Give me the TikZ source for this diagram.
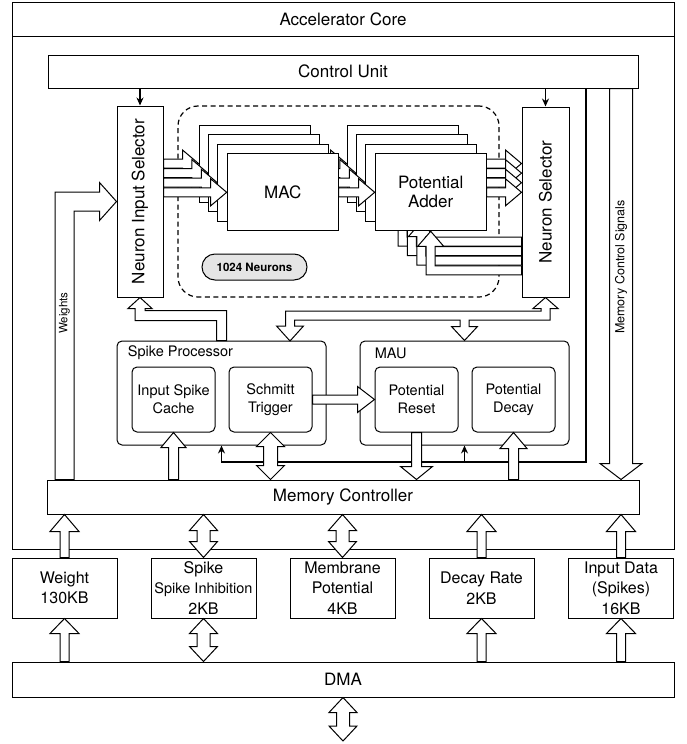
\documentclass[tikz,border=0pt]{standalone}
\usepackage{fontspec}
\setmainfont{TeX Gyre Heros}
\usepackage{tikz}
\usetikzlibrary{calc, arrows.meta}

\newcommand{\fsmain}{\fontsize{17}{19}\selectfont}
\newcommand{\fssub}{\fontsize{14.5}{18}\selectfont}
\newcommand{\fstiny}{\fontsize{11.5}{13}\selectfont}
% fat arrow: from, to, shaft half width, head half width, head length
\newcommand{\fatarrow}[5]{%
  \coordinate (fa) at #1; \coordinate (fb) at #2;
  \coordinate (fc) at ($(fb)!#5pt!(fa)$);
  \filldraw[fill=white] ($(fa)!#3pt!90:(fb)$) -- ($(fc)!#3pt!-90:(fa)$) -- ($(fc)!#4pt!-90:(fa)$)
    -- (fb) -- ($(fc)!#4pt!90:(fa)$) -- ($(fc)!#3pt!90:(fa)$) -- ($(fa)!#3pt!-90:(fb)$) -- cycle;}
% fat arrow with two heads
\newcommand{\fatdarrow}[5]{%
  \coordinate (fa) at #1; \coordinate (fb) at #2;
  \coordinate (fc) at ($(fb)!#5pt!(fa)$); \coordinate (fd) at ($(fa)!#5pt!(fb)$);
  \filldraw[fill=white] (fa) -- ($(fd)!#4pt!90:(fb)$) -- ($(fd)!#3pt!90:(fb)$)
    -- ($(fc)!#3pt!-90:(fa)$) -- ($(fc)!#4pt!-90:(fa)$) -- (fb)
    -- ($(fc)!#4pt!90:(fa)$) -- ($(fc)!#3pt!90:(fa)$)
    -- ($(fd)!#3pt!-90:(fb)$) -- ($(fd)!#4pt!-90:(fb)$) -- cycle;}

\begin{document}
\begin{tikzpicture}[x=1pt, y=-1pt, line width=1pt, >={Stealth[length=8pt,width=7pt]}]
        % Setup the styles
        \tikzset{box/.style={draw, fill=white, inner sep=0pt, align=center, font=\fsmain},
                 rbox/.style={box, rounded corners=5pt, font=\fssub,
                              minimum width=83, minimum height=65},
                 group/.style={box, rounded corners=5pt, minimum width=209, minimum height=104},
                 membox/.style={box, minimum width=105, minimum height=60,
                                font=\fontsize{16}{20.5}\selectfont},
                 copy/.style={box, minimum width=111, minimum height=77},
                 ctl/.style={draw, line width=1.2pt, ->}}
        \useasboundingbox (0,0) rectangle (686,744);

        % Accelerator core frame
        \node[box, minimum width=662, minimum height=513] (core) at (343,292.5) {};
        \node[box, minimum width=662, minimum height=34] (coretitle) at (343,19) {Accelerator Core};

        % Draw the main blocks
        \node[box, minimum width=590, minimum height=33] (ctrl) at (343,71.5) {Control Unit};
        \node[box, minimum width=592, minimum height=34] (mc) at (343,497) {Memory Controller};
        \node[box, minimum width=662, minimum height=35] (dma) at (343,679.5) {DMA};

        % Memories
        \node[membox] (wmem) at (64.5,588) {Weight\\130KB};
        \node[membox] (smem) at (203.5,588) {Spike\\{\fssub Spike Inhibition}\\2KB};
        \node[membox] (mmem) at (342.5,588) {Membrane\\Potential\\4KB};
        \node[membox] (dmem) at (481.5,588) {Decay Rate\\2KB};
        \node[membox] (imem) at (621,588) {Input Data\\(Spikes)\\16KB};

        % Selectors
        \node[box, minimum width=46, minimum height=191] (nis) at (140,201.5) {};
        \node[rotate=90, font=\fsmain] (nistext) at (nis) {Neuron Input Selector};
        \node[box, minimum width=47, minimum height=190] (ns) at (545.5,202) {};
        \node[rotate=90, font=\fsmain] (nstext) at (ns) {Neuron Selector};
        \draw[ctl] (ctrl.south -| nis) -- (nis.north);
        \draw[ctl] (ctrl.south -| ns) -- (ns.north);

        % Neuron array
        \node[draw, line width=1.2pt, dash pattern=on 5pt off 3.5pt, rounded corners=20pt,
              minimum width=321, minimum height=191] (array) at (338.5,201.5) {};
        \node[draw, fill=gray!20, rounded corners=13pt, minimum width=105, minimum height=26,
              font=\bfseries\fstiny] (count) at (254.5,267) {1024 Neurons};

        \foreach \k in {0,...,3}{
            \node[copy] (mac\k) at (254.5+9.4*\k, 163.5+9.6*\k) {};
            \node[copy] (pa\k) at (402.5+9.4*\k, 163.5+9.6*\k) {};
            \fatarrow{(nis.east |- mac\k)}{(mac\k.west)}{4.5}{13.5}{16}
            \fatarrow{(mac\k.east)}{(pa\k.west)}{4.5}{13.5}{16}
            \fatarrow{(pa\k.east)}{(ns.west |- pa\k)}{4.5}{13.5}{16}
            % feedback from the neuron selector
            \coordinate (rt) at ($(pa\k.south)+(0,39)$);
            \coordinate (r) at (ns.west |- rt);
            \coordinate (t) at (pa\k.south);
            \filldraw[fill=white] ($(r)+(0,-4.5)$) -- ($(rt)+(4.5,-4.5)$) -- ($(t)+(4.5,15)$)
                -- ($(t)+(13,15)$) -- (t) -- ($(t)+(-13,15)$) -- ($(t)+(-4.5,15)$)
                -- ($(rt)+(-4.5,4.5)$) -- ($(r)+(0,4.5)$) -- cycle;
        }
        \node[font=\fsmain] (mactext) at (mac3) {MAC};
        \node[font=\fsmain, align=center] (patext) at (pa3) {Potential\\Adder};

        % Spike processor and MAU
        \node[group] (sp) at (221.5,393) {};
        \node[anchor=west, font=\fssub] (sptext) at (124,353) {Spike Processor};
        \node[rbox] (isc) at (173.5,399.5) {Input Spike\\Cache};
        \node[rbox] (st) at (270.5,399.5) {Schmitt\\Trigger};
        \node[group] (mau) at (464.5,393) {};
        \node[anchor=west, font=\fssub] (mautext) at (371,353) {MAU};
        \node[rbox] (pr) at (416.5,399.5) {Potential\\Reset};
        \node[rbox] (pd) at (513.5,399.5) {Potential\\Decay};

        % Control line
        \coordinate (ctlx) at (586,462);
        \draw[ctl] (ctrl.south -| ctlx) -- (ctlx) -| (sp.south);
        \draw[ctl] (mau.south |- ctlx) -- (mau.south);

        % Weights
        \coordinate (wa) at (mc.north -| wmem);
        \coordinate (wc) at (wa |- nis.west);
        \filldraw[fill=white] ($(wa)+(-9.5,0)$) -- ($(wc)+(-9.5,-9.5)$) -- ($(nis.west)+(-17,-9.5)$)
            -- ($(nis.west)+(-17,-19)$) -- (nis.west) -- ($(nis.west)+(-17,19)$)
            -- ($(nis.west)+(-17,9.5)$) -- ($(wc)+(9.5,9.5)$) -- ($(wa)+(9.5,0)$) -- cycle;
        \node[rotate=90, font=\fstiny] (wtext) at (64.5,313) {Weights};

        % Memory control signals
        \fatarrow{(ctrl.south -| imem)}{(mc.north -| imem)}{11.5}{21}{16}
        \node[rotate=90, font=\fontsize{12.5}{14}\selectfont] (mcstext) at (621,267) {Memory Control Signals};

        % Spikes back to the input selector
        \coordinate (row) at (0,315.5);
        \coordinate (k1) at (sp.north |- row);
        \coordinate (k2) at (nis.south |- row);
        \filldraw[fill=white] ($(sp.north)+(5,0)$) -- ($(k1)+(5,-5)$) -- ($(k2)+(5,-5)$)
            -- ($(nis.south)+(5,11)$) -- ($(nis.south)+(12,11)$) -- (nis.south)
            -- ($(nis.south)+(-12,11)$) -- ($(nis.south)+(-5,11)$) -- ($(k2)+(-5,5)$)
            -- ($(k1)+(-5,5)$) -- ($(sp.north)+(-5,0)$) -- cycle;

        % Selector <-> processors
        \coordinate (spx) at (290,341);
        \coordinate (j1) at (spx |- row);
        \coordinate (j2) at (ns.south |- row);
        \coordinate (j3) at (mau.north |- row);
        \filldraw[fill=white] (spx) -- ($(spx)+(-13.5,-15)$) -- ($(spx)+(-4.5,-15)$)
            -- ($(j1)+(-4.5,-4.5)$) -- ($(j2)+(-4.5,-4.5)$) -- ($(ns.south)+(-4.5,11)$)
            -- ($(ns.south)+(-12.5,11)$) -- (ns.south) -- ($(ns.south)+(12.5,11)$)
            -- ($(ns.south)+(4.5,11)$) -- ($(j2)+(4.5,4.5)$) -- ($(j3)+(4.5,4.5)$)
            -- ($(mau.north)+(4.5,-14)$) -- ($(mau.north)+(13,-14)$) -- (mau.north)
            -- ($(mau.north)+(-13,-14)$) -- ($(mau.north)+(-4.5,-14)$) -- ($(j3)+(-4.5,4.5)$)
            -- ($(j1)+(4.5,4.5)$) -- ($(spx)+(4.5,-15)$) -- ($(spx)+(13.5,-15)$) -- cycle;

        % Schmitt trigger to reset
        \fatarrow{(st.east)}{(pr.west)}{4.5}{13}{17}

        % Memory controller to the units
        \fatarrow{(mc.north -| isc)}{(isc.south)}{5}{12.5}{15}
        \fatdarrow{(mc.north -| st)}{(st.south)}{7}{14}{14}
        \fatarrow{(pr.south)}{(mc.north -| pr)}{5}{16}{13}
        \fatarrow{(mc.north -| pd)}{(pd.south)}{5}{13.5}{16}

        % Memories to the memory controller
        \foreach \m in {wmem,dmem,imem}{
            \fatarrow{(\m.north)}{(mc.south -| \m)}{4.5}{14.5}{17}
        }
        \foreach \m in {smem,mmem}{
            \fatdarrow{(mc.south -| \m)}{(\m.north)}{6.5}{14}{16}
        }

        % DMA to the memories
        \foreach \m in {wmem,dmem,imem}{
            \fatarrow{(dma.north -| \m)}{(\m.south)}{4.5}{14.5}{15}
        }
        \fatdarrow{(smem.south)}{(dma.north -| smem)}{6.5}{14}{15}

        % DMA outside link
        \coordinate (ext) at (343,741);
        \fatdarrow{(dma.south)}{(ext)}{6.5}{14}{15}
\end{tikzpicture}
\end{document}
